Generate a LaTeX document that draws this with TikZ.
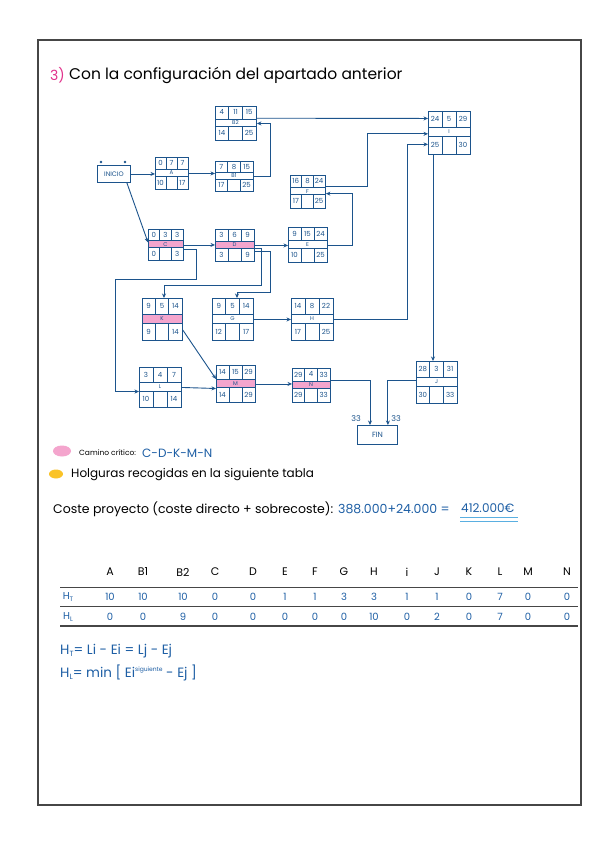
\documentclass[tikz,border=0pt]{standalone}
\usepackage{fontspec}
\setmainfont{Poppins}
\usetikzlibrary{calc,arrows.meta}
\definecolor{dblue}{RGB}{28,84,140}
\definecolor{tblue}{RGB}{30,95,165}
\definecolor{critpink}{RGB}{244,165,205}
\definecolor{holgyel}{RGB}{250,195,40}
\definecolor{framegray}{RGB}{70,70,70}
\definecolor{lblue}{RGB}{90,175,225}
\definecolor{titlepink}{RGB}{225,50,140}
\tikzset{
  box/.style={draw=dblue, line width=0.9pt, inner sep=0pt, rectangle},
  ln/.style={draw=dblue, line width=0.8pt},
  cell/.style={text=dblue, font=\fontsize{7}{7}\selectfont, inner sep=0pt},
  lab/.style={text=dblue, font=\fontsize{5.5}{6}\selectfont, inner sep=0pt},
  arr/.style={draw=dblue, line width=0.9pt, -{Stealth[length=4.5pt,width=4pt]}},
  hdr/.style={font=\fontsize{11}{12}\selectfont, inner sep=0pt},
  val/.style={font=\fontsize{10}{11}\selectfont, text=tblue, inner sep=0pt},
  txt/.style={anchor=west, inner sep=0pt},
  rule/.style={draw=framegray, line width=0.9pt}
}
\newcommand\bw{40}\newcommand\bh{33}\newcommand\midfill{white}
\newcommand\actnode[9]{%
  \pgfmathsetmacro\Xa{#2}\pgfmathsetmacro\Xb{#2+\bw}%
  \pgfmathsetmacro\Ya{#3}\pgfmathsetmacro\Yb{#3+\bh}%
  \pgfmathsetmacro\Yr{#3+0.38*\bh}\pgfmathsetmacro\Ys{#3+0.6*\bh}%
  \pgfmathsetmacro\Xc{#2+\bw/3}\pgfmathsetmacro\Xd{#2+2*\bw/3}%
  \fill[\midfill] (\Xa,\Yr) rectangle (\Xb,\Ys);
  \node[box, minimum width=\bw pt, minimum height=\bh pt, anchor=north west] (#1) at (\Xa,\Ya) {};
  \draw[ln] (\Xa,\Yr) -- (\Xb,\Yr) (\Xa,\Ys) -- (\Xb,\Ys)
            (\Xc,\Ya) -- (\Xc,\Yr) (\Xd,\Ya) -- (\Xd,\Yr)
            (\Xc,\Ys) -- (\Xc,\Yb) (\Xd,\Ys) -- (\Xd,\Yb);
  \node[cell] (#1-es) at ({(\Xa+\Xc)/2},{(\Ya+\Yr)/2}) {#4};
  \node[cell] (#1-du) at ({(\Xc+\Xd)/2},{(\Ya+\Yr)/2}) {#5};
  \node[cell] (#1-ef) at ({(\Xd+\Xb)/2},{(\Ya+\Yr)/2}) {#6};
  \node[lab]  (#1-lb) at ({(\Xa+\Xb)/2},{(\Yr+\Ys)/2}) {#7};
  \node[cell] (#1-ls) at ({(\Xa+\Xc)/2},{(\Ys+\Yb)/2}) {#8};
  \node[cell] (#1-lf) at ({(\Xd+\Xb)/2},{(\Ys+\Yb)/2}) {#9};
}
\begin{document}
\begin{tikzpicture}[x=1pt,y=-1pt]
\fill[white] (0,0) rectangle (599,848);
\useasboundingbox (0,0) rectangle (599,848);
\draw[framegray, line width=1.6pt] (38,40) rectangle (581,805);

% title
\node[txt, text=titlepink, font=\fontsize{14}{15}\selectfont] (t3) at (50,75) {3)};
\node[txt, font=\fontsize{15.5}{16}\selectfont] (title) at (69,75) {Con la configuración del apartado anterior};

% activity nodes
\node[box, minimum width=33pt, minimum height=17pt, anchor=north west, text=dblue, font=\fontsize{6.5}{7}\selectfont] (INICIO) at (97,165) {INICIO};
\fill[dblue] (101,162) circle (1.3pt);
\fill[dblue] (125,162) circle (1.3pt);

\renewcommand\bw{33}\renewcommand\bh{32}\renewcommand\midfill{white}
\actnode{A}{155}{157}{0}{7}{7}{A}{10}{17}
\renewcommand\bw{38}\renewcommand\bh{30}
\actnode{B1}{215}{161}{7}{8}{15}{B1}{17}{25}
\renewcommand\bw{41}\renewcommand\bh{34}
\actnode{B2}{215}{106}{4}{11}{15}{B2}{14}{25}
\renewcommand\bw{35}\renewcommand\bh{33}
\actnode{F}{290}{175}{16}{8}{24}{F}{17}{25}
\renewcommand\bw{35}\renewcommand\bh{31}\renewcommand\midfill{critpink}
\actnode{C}{148}{229}{0}{3}{3}{C}{0}{3}
\renewcommand\bw{39}\renewcommand\bh{32}
\actnode{D}{215}{229}{3}{6}{9}{D}{3}{9}
\renewcommand\bw{39}\renewcommand\bh{35}\renewcommand\midfill{white}
\actnode{E}{288}{227}{9}{15}{24}{E}{10}{25}
\renewcommand\bw{42}\renewcommand\bh{43}
\actnode{I}{428}{111}{24}{5}{29}{I}{25}{30}
\renewcommand\bw{40}\renewcommand\bh{42}\renewcommand\midfill{critpink}
\actnode{K}{142}{298}{9}{5}{14}{K}{9}{14}
\renewcommand\bw{41}\renewcommand\bh{42}\renewcommand\midfill{white}
\actnode{G}{212}{298}{9}{5}{14}{G}{12}{17}
\renewcommand\bw{42}\renewcommand\bh{42}
\actnode{H}{291}{298}{14}{8}{22}{H}{17}{25}
\renewcommand\bw{42}\renewcommand\bh{40}
\actnode{L}{139}{367}{3}{4}{7}{L}{10}{14}
\renewcommand\bw{39}\renewcommand\bh{37}\renewcommand\midfill{critpink}
\actnode{M}{216}{365}{14}{15}{29}{M}{14}{29}
\renewcommand\bw{38}\renewcommand\bh{34}
\actnode{N}{292}{368}{29}{4}{33}{N}{29}{33}
\renewcommand\bw{41}\renewcommand\bh{42}\renewcommand\midfill{white}
\actnode{J}{416}{361}{28}{3}{31}{J}{30}{33}

\node[box, minimum width=40pt, minimum height=19pt, anchor=north west, text=dblue, font=\fontsize{7.5}{8}\selectfont] (FIN) at (357,425) {FIN};

% connectors
\draw[arr] (INICIO.east) -- (INICIO.east -| A.west);
\draw[arr] ($(INICIO.south east)+(-4,0)$) -- ($(C.north west)!0.42!(C.south west)$);
\draw[arr] (A.east) -- (A.east -| B1.west);
\draw[arr] (B1.east) -- ++(17,0) |- (B2.east);
\draw[arr] ($(B2.north east)!0.35!(B2.south east)$) -- ($(I.north west)!0.17!(I.south west)$);
\draw[arr] ($(F.north east)!0.33!(F.south east)$) -- ++(42,0) |- ($(I.north west)!0.52!(I.south west)$);
\draw[arr] (E.east) -- ++(25,0) |- ($(F.north east)!0.55!(F.south east)$);
\draw[arr] (C.east) -- (C.east -| D.west);
\draw[arr] (D.east) -- (D.east -| E.west);
\coordinate (dk) at (261,285);
\draw[arr] ($(D.north east)!0.6!(D.south east)$) -| (dk) -| ($(K.north west)+(22,0)$);
\coordinate (dg) at (270,292);
\draw[arr] ($(D.north east)!0.68!(D.south east)$) -| (dg) -| ($(G.north west)+(25,0)$);
\coordinate (cl) at (115,279);
\draw[arr] ($(C.north east)!0.63!(C.south east)$) -- ++(13,0) |- (cl) |- ($(L.north west)!0.6!(L.south west)$);
\draw[arr] ($(K.north east)!0.75!(K.south east)$) -- ($(M.north west)!0.37!(M.south west)$);
\draw[arr] (L.east) -- ($(M.north west)!0.62!(M.south west)$);
\draw[arr] (M.east) -- (M.east -| N.west);
\draw[arr] (G.east) -- (G.east -| H.west);
\draw[arr] (H.east) -- ++(74,0) |- ($(I.north west)!0.76!(I.south west)$);
\draw[arr] ($(I.south west)+(5,0)$) -- ($(J.north west)+(17,0)$);
\draw[arr] ($(N.north east)!0.36!(N.south east)$) -| ($(FIN.north west)+(13,0)$);
\draw[arr] ($(J.north west)!0.45!(J.south west)$) -| ($(FIN.north east)+(-10,0)$);
\node[cell, font=\fontsize{8}{8}\selectfont] (f33a) at (356,419) {33};
\node[cell, font=\fontsize{8}{8}\selectfont] (f33b) at (396,419) {33};

% legend
\fill[critpink] (62,451) ellipse (9pt and 5.5pt);
\node[txt, font=\fontsize{7.5}{8}\selectfont] (cc) at (79,453) {Camino crítico:};
\node[txt, text=tblue, font=\fontsize{12}{13}\selectfont] (ccv) at (142,453) {C-D-K-M-N};
\fill[holgyel] (56,474) ellipse (7pt and 4.5pt);
\node[txt, font=\fontsize{12}{13}\selectfont] (hol) at (71,475) {Holguras recogidas en la siguiente tabla};
\node[txt, font=\fontsize{12.5}{13}\selectfont] (cost) at (53,509) {Coste proyecto (coste directo + sobrecoste):};
\node[txt, text=tblue, font=\fontsize{12.5}{13}\selectfont] (costv) at (338,509) {388.000+24.000 =};
\node[txt, text=tblue, font=\fontsize{12}{13}\selectfont] (tot) at (461,508) {412.000€};
\draw[lblue, line width=1pt] (460,517) -- (518,517);
\draw[lblue, line width=1pt] (460,521) -- (518,521);

% table
\draw[rule] (60,587) -- (578,587);
\draw[rule, line width=0.7pt] (60,606) -- (578,606);
\draw[rule, line width=1.2pt] (60,626) -- (578,626);
\node[val] (rht) at (68,597) {H\raisebox{-2pt}{\fontsize{6.5}{6.5}\selectfont T}};
\node[val] (rhl) at (68,617) {H\raisebox{-2pt}{\fontsize{6.5}{6.5}\selectfont L}};
\foreach \xx/\ll/\va/\vb in {110/A/10/0,143/B1/10/0,183/B2/10/9,215/C/0/0,253/D/0/0,285/E/1/0,315/F/1/0,344/G/3/0,374/H/3/10,407/i/1/0,437/J/1/2,469/K/0/0,500/L/7/7,528/M/0/0,567/N/0/0}{
  \node[hdr] (hd-\ll) at (\xx,572) {\ll};
  \node[val] (ht-\ll) at (\xx,597) {\va};
  \node[val] (hl-\ll) at (\xx,617) {\vb};
}

% formulas
\node[txt, text=tblue, font=\fontsize{13.5}{14}\selectfont] (f1) at (60,651) {H\raisebox{-2pt}{\fontsize{7.5}{7.5}\selectfont T}= Li - Ei = Lj - Ej};
\node[txt, text=tblue, font=\fontsize{13.5}{14}\selectfont] (f2) at (60,673) {H\raisebox{-2pt}{\fontsize{7.5}{7.5}\selectfont L}= min [ Ei\raisebox{6pt}{\fontsize{6}{6}\selectfont siguiente} - Ej ]};
\end{tikzpicture}
\end{document}
